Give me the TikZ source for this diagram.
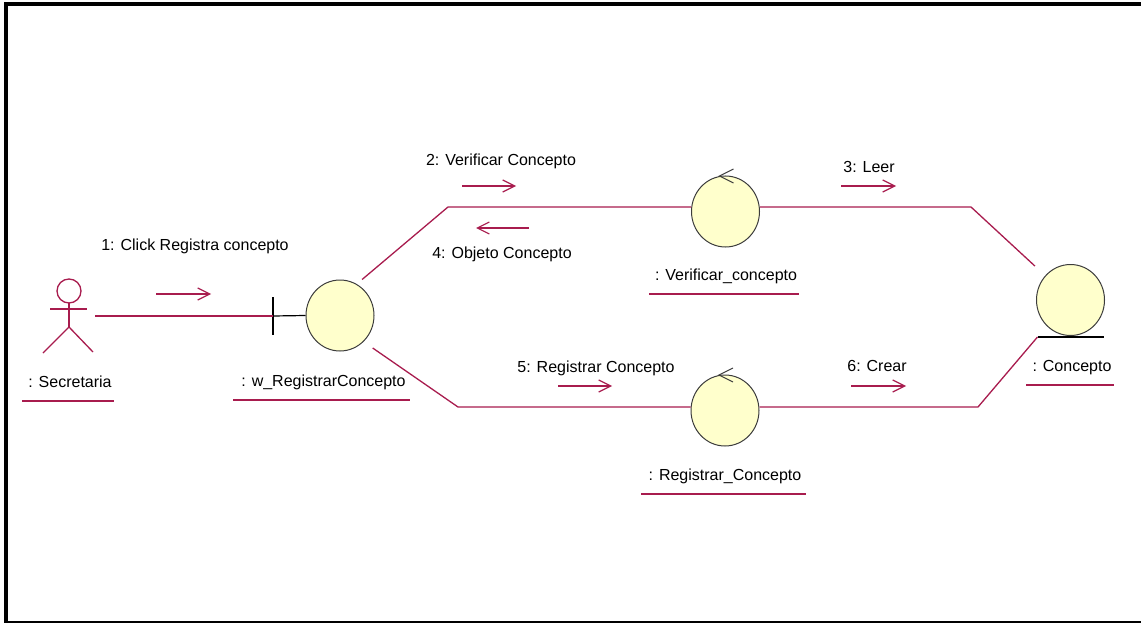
\documentclass[tikz,border=0pt]{standalone}
\usepackage{fontspec}
\setmainfont{Liberation Sans}
\usetikzlibrary{arrows.meta,shapes.geometric,calc}
\definecolor{linkc}{RGB}{168,28,78}
\definecolor{objfill}{RGB}{255,255,204}
\definecolor{objline}{RGB}{60,60,60}
\begin{document}
\begin{tikzpicture}[x=1pt,y=-1pt,
  lbl/.style={font=\fontsize{16}{19}\selectfont, anchor=base, inner sep=0pt, text=black},
  obj/.style={ellipse, draw=objline, line width=1pt, fill=objfill, minimum width=68pt, minimum height=71pt, inner sep=0pt},
  conn/.style={draw=linkc, line width=1.3pt},
  msgarrow/.style={draw=linkc, line width=1.3pt, -{Straight Barb[length=12pt,width=12pt,line width=1.2pt]}},
  uline/.style={draw=linkc, line width=1.3pt},
  glyph/.style={draw=objline, line width=1pt},
  blk/.style={draw=black, line width=1.2pt},
]
\useasboundingbox (0,0) rectangle (1141,623);
% frame
\draw[black, line width=4pt] (1141,4) -- (6,4) -- (6,623);
\draw[black, line width=2pt] (6,622) -- (1141,622);

% actor
\node[minimum width=52pt, minimum height=74pt, inner sep=0pt] (sec) at (69,316) {};
\draw[conn] ($(sec.center)+(0,-25)$) circle[radius=12pt];
\draw[conn] ($(sec.center)+(-19,-7)$) -- ($(sec.center)+(18,-7)$);
\draw[conn] ($(sec.center)+(0,-13)$) -- ($(sec.center)+(0,11)$);
\draw[conn] ($(sec.center)+(-26,37)$) -- ($(sec.center)+(0,11)$) -- ($(sec.center)+(24,36)$);
\node[lbl] (secl) at (70,387) {: Secretaria};
\draw[uline] (22,401) -- (114,401);

% objects
\node[obj] (w) at (340,315.5) {};
\node[obj] (v) at (725.5,211.5) {};
\node[obj] (r) at (725,410.5) {};
\node[obj] (c) at (1070.5,300) {};

% boundary bar
\coordinate (wb) at (273,316);
\draw[blk] ($(wb)+(0,-19)$) -- ($(wb)+(0,19)$);
\draw[blk] (wb) -- (w.west);

% control glyphs
\foreach \n in {v,r}{
  \draw[glyph] ($(\n.center)+(8,-42.5)$) -- ($(\n.center)+(-6,-35.5)$) -- ($(\n.center)+(8,-28.5)$);
}

% entity base line
\coordinate (cbase) at ($(c.south)+(-33,1)$);
\draw[blk] (cbase) -- ++(66,0);

% bends
\coordinate (b1) at (448,207);
\coordinate (b2) at (971,207);
\coordinate (b3) at (458,407);
\coordinate (b4) at (978,407);

% connectors
\draw[conn] (sec.east) -- (wb);
\draw[conn, shorten <=7pt] (w.62) -- (b1) -- (b1 -| v.west);
\draw[conn, shorten >=14pt] (b1 -| v.east) -- (b2) -- (c.136);
\draw[conn, shorten <=11pt] (w.-48) -- (b3) -- (b3 -| r.west);
\draw[conn] (b3 -| r.east) -- (b4) -- (cbase);

% object labels
\node[lbl] (wl) at (323.5,386) {: w\_RegistrarConcepto};
\draw[uline] (233,400) -- (410,400);
\node[lbl] (vl) at (726,280) {: Verificar\_concepto};
\draw[uline] (649,294) -- (799,294);
\node[lbl] (rl) at (725,480) {: Registrar\_Concepto};
\draw[uline] (641,494) -- (806,494);
\node[lbl] (cl) at (1072,371) {: Concepto};
\draw[uline] (1026,385) -- (1114,385);

% messages
\node[lbl] (m1l) at (195,250) {1: Click Registra concepto};
\coordinate (m1s) at (156,294); \coordinate (m1e) at (211,294);
\draw[msgarrow] (m1s) -- (m1e);

\node[lbl] (m2l) at (501,165) {2: Verificar Concepto};
\coordinate (m2s) at (462,186); \coordinate (m2e) at (516,186);
\draw[msgarrow] (m2s) -- (m2e);

\node[lbl] (m4l) at (502,258) {4: Objeto Concepto};
\coordinate (m4s) at (529,228); \coordinate (m4e) at (476,228);
\draw[msgarrow] (m4s) -- (m4e);

\node[lbl] (m3l) at (869,172) {3: Leer};
\coordinate (m3s) at (841,186); \coordinate (m3e) at (896,186);
\draw[msgarrow] (m3s) -- (m3e);

\node[lbl] (m5l) at (596,372) {5: Registrar Concepto};
\coordinate (m5s) at (558,386); \coordinate (m5e) at (612,386);
\draw[msgarrow] (m5s) -- (m5e);

\node[lbl] (m6l) at (877,371) {6: Crear};
\coordinate (m6s) at (851,386); \coordinate (m6e) at (906,386);
\draw[msgarrow] (m6s) -- (m6e);
\end{tikzpicture}
\end{document}
